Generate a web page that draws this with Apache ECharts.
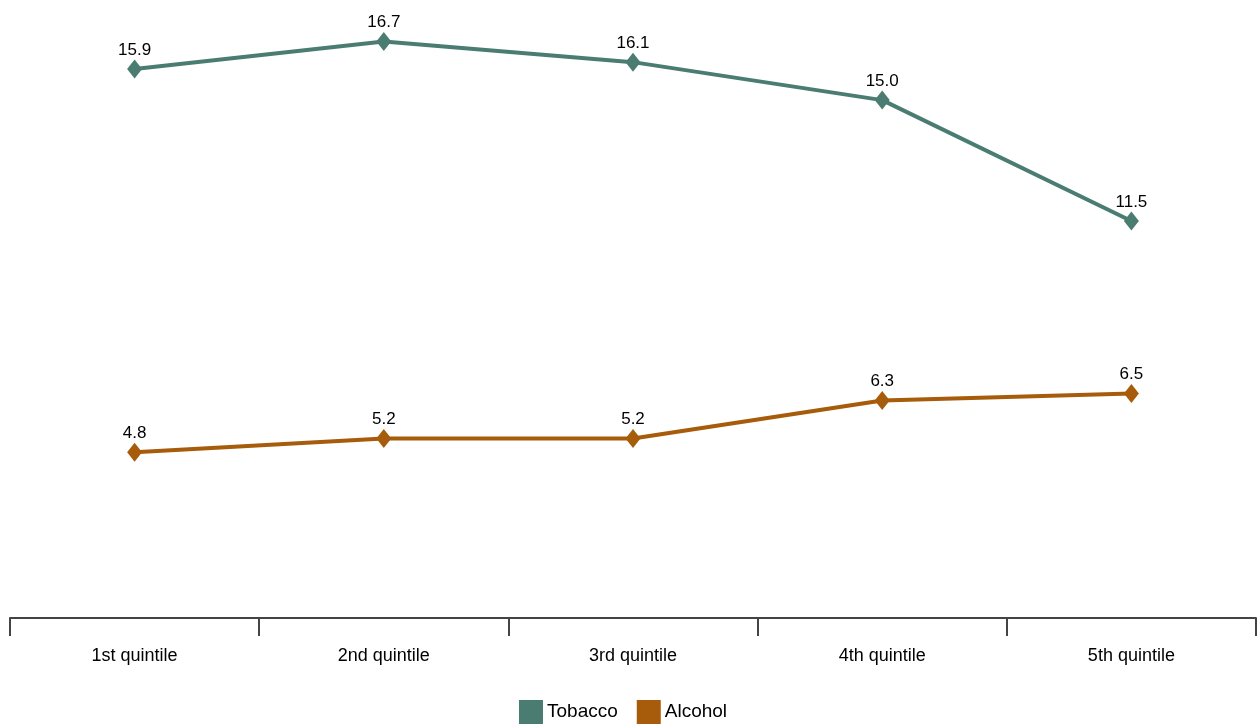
<!DOCTYPE html>
<html lang="en">
  <head>
    <meta charset="UTF-8" />
    <title>Tobacco and Alcohol by Quintile</title>
    <script src="https://cdn.jsdelivr.net/npm/echarts@6/dist/echarts.min.js"></script>
    <style>
      html, body { margin: 0; padding: 0; background: #fff; }
      #main { width: 1257px; height: 724px; }
    </style>
  </head>
  <body>
    <div id="main"></div>

    <script>
      var quintiles = ["1st quintile", "2nd quintile", "3rd quintile", "4th quintile", "5th quintile"];
      var tobacco = [15.9, 16.7, 16.1, 15.0, 11.5];
      var alcohol = [4.8, 5.2, 5.2, 6.3, 6.5];

      var chartDom = document.getElementById("main");
      var myChart = echarts.init(chartDom);

      function lineSeries(name, data, color) {
        return {
          name: name,
          type: "line",
          data: data,
          symbol: "diamond",
          symbolSize: [15, 19],
          lineStyle: { width: 4, color: color },
          itemStyle: { color: color },
          label: {
            show: true,
            position: "top",
            distance: 1,
            color: "#000",
            fontSize: 17,
            fontFamily: "Liberation Sans, Arial, sans-serif",
            formatter: (p) => p.value.toFixed(1),
          },
        };
      }

      var option = {
        animation: false,
        textStyle: { fontFamily: "Liberation Sans, Arial, sans-serif" },
        grid: { left: 10, right: 1, top: 0, bottom: 106 },
        legend: {
          top: 700,
          left: 519,
          padding: 0,
          itemWidth: 24,
          itemHeight: 24,
          itemGap: 19,
          icon: "rect",
          textStyle: { fontSize: 19, color: "#000", padding: [0, 0, 0, -1] },
          data: ["Tobacco", "Alcohol"],
        },
        xAxis: {
          type: "category",
          data: quintiles,
          boundaryGap: true,
          axisLine: { lineStyle: { color: "#444", width: 2 } },
          axisTick: { show: true, length: 18, lineStyle: { color: "#444", width: 2 } },
          axisLabel: { color: "#000", fontSize: 18, margin: 29 },
        },
        yAxis: {
          type: "value",
          min: 0,
          max: 17.9,
          show: false,
          splitLine: { show: false },
        },
        series: [
          lineSeries("Tobacco", tobacco, "#4a7c72"),
          lineSeries("Alcohol", alcohol, "#a65c0a"),
        ],
      };

      myChart.setOption(option);
    </script>
  </body>
</html>
